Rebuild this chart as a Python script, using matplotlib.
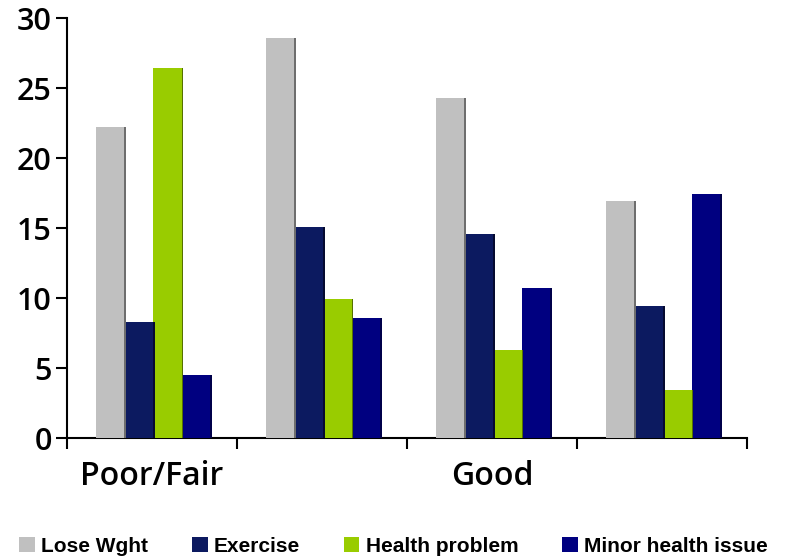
import numpy as np
import matplotlib
matplotlib.use('Agg')
import matplotlib.pyplot as plt
import matplotlib.patheffects as pe
from matplotlib.patches import Patch

# data
groups = ['Poor/Fair', '', 'Good', '']
series = ['Lose Wght', 'Exercise', 'Health problem', 'Minor health issue']
lose_wght = [22.2, 28.6, 24.3, 16.9]
exercise = [8.3, 15.1, 14.6, 9.4]
health_problem = [26.4, 9.9, 6.3, 3.4]
minor_health = [4.5, 8.6, 10.7, 17.4]
values = [lose_wght, exercise, health_problem, minor_health]

colors = ['#C0C0C0', '#0C1A60', '#99CC00', '#000080']
shadows = ['#6E6E6E', '#050A30', '#557000', '#00004A']

tick_font = {'family': 'Open Sans', 'weight': 'semibold'}

fig = plt.figure(figsize=(7.87, 5.57), dpi=100)
ax = fig.add_axes([67/787, 119/557, 680/787, 420/557])

x = np.arange(len(groups))
w = 0.168
start = 0.17
for i, (vals, c, s) in enumerate(zip(values, colors, shadows)):
    b = ax.bar(x + start + i*w, vals, width=w, align='edge', color=c,
               linewidth=0, zorder=3 - i*0.1)
    for p in b:
        p.set_path_effects([pe.SimplePatchShadow(offset=(1.3, 0), shadow_rgbFace=s, alpha=1),
                            pe.Normal()])

ax.set_xlim(0, 4)
ax.set_ylim(0, 30)
ax.set_yticks(range(0, 31, 5))
ax.set_yticklabels([str(v) for v in range(0, 31, 5)], fontsize=22, **tick_font)
ax.tick_params(axis='y', direction='out', length=8, width=1.5, pad=3)

ax.set_xticks(range(0, 5))
ax.set_xticklabels([])
ax.tick_params(axis='x', which='major', direction='out', length=8, width=1.5)
ax.set_xticks(x + 0.5, minor=True)
ax.set_xticklabels(groups, minor=True, fontsize=23, **tick_font)
ax.tick_params(axis='x', which='minor', length=0, pad=16)

for side in ['top', 'right']:
    ax.spines[side].set_visible(False)
ax.spines['left'].set_linewidth(1.5)
ax.spines['bottom'].set_linewidth(1.5)

handles = [Patch(facecolor=c, label=s) for c, s in zip(colors, series)]
fig.legend(handles=handles, loc='center', bbox_to_anchor=(0.5, 11/557), ncol=4,
           frameon=False, prop={'family': 'Liberation Sans', 'weight': 'bold', 'size': 15},
           handlelength=0.75, handleheight=0.75, handletextpad=0.3, columnspacing=2.1,
           borderaxespad=0)

fig.savefig('out.png', dpi=100)
